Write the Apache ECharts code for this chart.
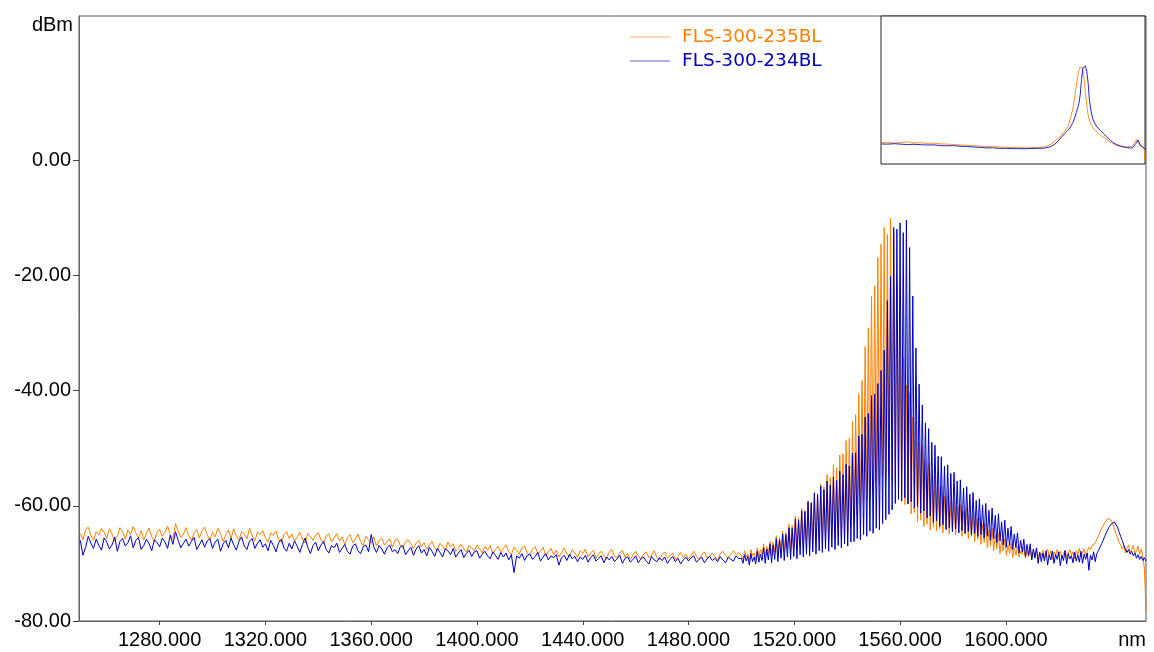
<!DOCTYPE html>
<html>
<head>
<meta charset="utf-8">
<script src="https://cdn.jsdelivr.net/npm/echarts@6/dist/echarts.min.js"></script>
<style>
  html, body { margin: 0; padding: 0; background: #fff; }
  #chart { width: 1154px; height: 652px; }
</style>
</head>
<body>
<div id="chart"></div>
<script>
// Optical spectrum of two FLS-300 sources (wavelength in nm, power in dBm).
const seriesNames = ['FLS-300-235BL', 'FLS-300-234BL'];
const seriesColors = ['#ff8000', '#0000c0'];
const xTickValues = [1280, 1320, 1360, 1400, 1440, 1480, 1520, 1560, 1600];
const yTickValues = [-80, -60, -40, -20, 0];

// Noise floor, 1 nm sampling from 1250 nm
const floorStart = 1250, floorStep = 1;
const floor235 = [
  -64.8,-65.9,-64.1,-63.7,-65.2,-66.0,-64.5,-65.1,-63.9,-64.6,
  -65.7,-64.0,-64.9,-66.1,-65.3,-63.8,-64.4,-65.8,-64.2,-65.0,
  -63.6,-64.7,-65.6,-64.3,-65.9,-64.8,-63.9,-65.4,-66.2,-64.5,
  -64.1,-65.3,-64.6,-63.5,-65.0,-65.8,-63.1,-64.4,-65.5,-64.9,
  -63.8,-65.2,-66.0,-64.7,-64.1,-65.6,-64.3,-63.7,-65.1,-65.9,
  -64.6,-65.4,-63.9,-64.8,-66.2,-65.0,-64.2,-65.7,-64.0,-65.3,
  -66.0,-64.5,-64.9,-65.8,-63.9,-65.2,-66.1,-64.6,-65.0,-64.3,
  -65.6,-66.3,-64.7,-65.1,-64.4,-65.9,-66.4,-65.0,-64.5,-65.7,
  -64.9,-66.2,-65.4,-64.6,-65.8,-66.5,-64.8,-65.3,-66.0,-65.1,
  -64.7,-65.9,-66.6,-65.2,-64.9,-66.3,-65.6,-64.8,-66.1,-65.4,
  -66.7,-65.5,-65.0,-66.4,-65.8,-64.9,-66.2,-66.9,-65.3,-65.9,
  -66.5,-65.4,-67.0,-66.1,-65.6,-66.8,-66.3,-65.7,-67.2,-66.0,
  -65.8,-66.9,-67.3,-66.2,-65.9,-66.6,-67.4,-66.5,-66.0,-67.1,
  -66.4,-67.6,-66.8,-66.2,-67.3,-67.8,-66.5,-67.0,-67.7,-66.3,
  -67.2,-66.6,-67.9,-67.4,-66.7,-67.5,-68.0,-66.9,-67.3,-67.8,
  -66.8,-67.5,-68.2,-67.1,-67.7,-66.9,-68.3,-67.6,-67.0,-68.1,
  -67.4,-66.8,-68.0,-68.5,-67.2,-67.8,-68.4,-67.3,-67.0,-68.2,
  -68.6,-67.5,-67.1,-68.3,-67.9,-67.2,-68.7,-68.0,-67.4,-68.5,
  -67.7,-68.9,-68.1,-67.3,-68.4,-68.8,-67.6,-68.2,-69.0,-67.8,
  -68.3,-67.5,-68.9,-68.2,-67.7,-69.1,-68.4,-67.9,-68.6,-69.2,
  -68.0,-67.6,-68.8,-69.0,-68.1,-67.8,-68.9,-68.3,-69.3,-68.5,
  -67.9,-68.7,-69.2,-68.4,-68.0,-69.0,-68.6,-67.8,-68.9,-69.4,
  -68.5,-68.0,-69.1,-68.7,-68.2,-69.3,-68.8,-68.1,-69.0,-68.4,
  -69.2,-68.6,-67.9,-68.8,-69.3,-68.5,-68.0,-69.1,-68.7,-68.2,
  -68.9,-69.4,-68.3,-67.9,-68.6,-69.0,-68.4,-67.8,-68.5,-68.1
];
const floor234 = [
  -66.0,-68.6,-67.2,-65.3,-66.5,-67.4,-65.8,-66.9,-67.7,-65.6,
  -66.3,-67.5,-66.8,-65.4,-67.9,-66.2,-65.7,-67.0,-66.4,-65.2,
  -67.3,-66.0,-65.5,-67.6,-66.9,-65.8,-66.6,-67.8,-65.9,-66.4,
  -67.1,-65.6,-66.3,-67.4,-65.1,-66.7,-64.5,-66.0,-67.3,-66.5,
  -65.8,-67.0,-66.2,-65.5,-67.6,-66.8,-65.9,-67.2,-66.1,-65.7,
  -67.4,-66.3,-65.8,-67.9,-66.6,-66.0,-67.3,-65.6,-66.8,-67.7,
  -66.2,-65.4,-67.0,-67.6,-66.1,-65.7,-67.4,-66.5,-65.9,-67.2,
  -66.6,-67.8,-66.0,-66.9,-68.0,-66.4,-65.8,-67.3,-67.9,-66.5,
  -67.5,-66.1,-67.0,-68.1,-66.7,-65.6,-67.2,-68.3,-66.9,-66.3,
  -67.8,-66.8,-66.2,-67.6,-68.2,-66.9,-67.3,-66.5,-68.1,-67.4,
  -66.7,-67.9,-68.4,-67.0,-66.6,-67.8,-68.3,-67.1,-66.8,-68.0,
  -65.0,-67.2,-68.1,-66.9,-67.5,-68.4,-67.3,-66.8,-68.0,-67.6,
  -68.3,-67.1,-66.9,-68.5,-67.8,-67.2,-68.6,-67.5,-66.9,-68.2,
  -67.6,-68.7,-67.2,-67.9,-68.8,-67.4,-68.1,-68.9,-67.5,-67.8,
  -68.5,-67.4,-68.9,-68.2,-67.6,-69.0,-68.3,-67.7,-68.8,-68.0,
  -67.8,-69.1,-68.4,-67.9,-68.7,-69.2,-68.0,-68.6,-69.3,-68.1,
  -68.9,-68.2,-69.4,-68.5,-71.6,-68.7,-69.1,-68.3,-69.5,-68.6,
  -68.4,-69.3,-68.8,-68.1,-69.6,-68.9,-68.3,-69.4,-68.7,-69.0,
  -68.5,-70.3,-69.0,-68.6,-69.5,-68.4,-69.2,-68.8,-69.7,-68.9,
  -69.3,-68.6,-69.8,-69.0,-68.5,-69.6,-69.1,-68.7,-69.9,-68.9,
  -69.4,-68.8,-69.7,-69.2,-68.6,-70.0,-69.1,-68.9,-69.8,-69.3,
  -68.7,-69.9,-69.2,-68.9,-69.6,-70.1,-68.8,-69.4,-69.7,-69.0,
  -69.5,-68.9,-70.0,-69.3,-68.8,-69.7,-69.1,-70.1,-69.4,-68.9,
  -69.6,-69.0,-68.7,-69.8,-69.3,-68.9,-69.9,-69.2,-68.8,-69.5,
  -69.1,-69.7,-68.8,-69.4,-69.9,-68.9,-69.3,-69.6,-68.7,-69.2
];

// Emission band, 0.6 nm sampling from 1500 nm (mode crests and troughs alternate)
const bandStart = 1500, bandStep = 0.6;
const band235 = [
  -68.6,-69.3,-67.8,-68.9,-68.4,-69.5,-67.6,-68.7,-68.2,-69.4,
  -67.3,-68.9,-67.6,-68.5,-66.6,-68.8,-67.1,-68.3,-66.2,-68.6,
  -66.3,-68.1,-65.2,-68.4,-65.5,-67.7,-64.4,-68.0,-64.6,-67.5,
  -63.2,-67.9,-63.4,-67.3,-61.8,-67.6,-62.1,-66.9,-60.5,-67.4,
  -60.8,-66.8,-59.1,-67.2,-59.4,-66.5,-57.6,-66.9,-58.0,-66.2,
  -56.2,-66.6,-56.7,-65.9,-54.6,-66.3,-55.1,-65.5,-52.9,-65.8,
  -53.4,-65.1,-51.2,-65.5,-51.0,-64.4,-48.7,-64.8,-48.3,-63.6,
  -45.4,-63.0,-44.2,-61.5,-40.6,-61.0,-38.3,-59.2,-32.4,-59.0,
  -29.2,-57.4,-23.6,-57.6,-21.8,-55.9,-16.9,-56.4,-14.6,-54.9,
  -11.7,-55.4,-12.9,-54.6,-10.1,-55.9,-13.6,-56.2,-21.5,-57.9,
  -30.6,-57.8,-34.2,-59.8,-39.1,-59.6,-40.4,-61.4,-44.6,-61.2,
  -45.5,-62.8,-49.1,-62.5,-49.6,-63.6,-52.0,-63.2,-52.6,-64.2,
  -54.5,-63.7,-54.8,-64.4,-56.8,-64.0,-56.6,-64.7,-58.3,-64.2,
  -58.2,-64.9,-59.4,-64.4,-59.0,-65.1,-60.2,-64.7,-59.8,-65.3,
  -60.9,-64.9,-60.5,-65.7,-61.6,-65.3,-61.2,-66.2,-62.3,-65.8,
  -62.0,-66.7,-63.2,-66.4,-63.0,-67.3,-64.2,-67.0,-63.9,-67.8,
  -65.0,-67.5,-64.8,-68.3,-65.9,-67.9,-65.7,-68.7,-66.8,-68.3,
  -66.5,-69.0,-67.3,-68.6,-67.0,-68.9,-67.9,-68.4,-67.2,-69.1,
  -67.8,-68.9,-67.5,-69.1,-68.0,-68.6,-67.6,-69.2,-68.1,-68.7,
  -67.7,-69.0,-68.2,-67.5,-68.9,-67.8,-69.3,-68.0,-68.6,-67.6,
  -68.8,-67.9,-69.1,-68.3,-67.7,-69.0,-68.2,-67.6,-68.7,-68.0,
  -69.2,-67.8,-68.5,-67.4,-68.9,-68.1,-67.5,-68.6,-67.9,-67.2,
  -67.6,-66.9,-67.2,-66.5,-65.8,-65.3,-64.6,-64.0,-63.5,-62.9,
  -62.6,-62.2,-62.1,-62.5,-63.2,-63.9,-64.8,-65.5,-66.3,-66.8,
  -67.5,-66.9,-68.2,-67.4,-66.8,-68.0,-67.6,-66.9,-68.3,-67.8,
  -67.0,-68.4,-67.5,-68.6,-71.0,-78.2
];
const band234 = [
  -69.1,-70.0,-68.5,-69.6,-68.8,-70.3,-68.3,-69.7,-68.9,-70.1,
  -67.9,-69.8,-68.4,-69.5,-67.3,-70.0,-67.5,-69.4,-66.6,-69.9,
  -66.8,-69.3,-65.7,-69.7,-65.9,-69.1,-64.9,-69.5,-65.0,-68.9,
  -63.8,-69.3,-63.9,-68.8,-62.3,-69.2,-62.5,-68.5,-60.9,-68.9,
  -61.0,-68.4,-59.3,-68.7,-59.5,-68.0,-57.8,-68.4,-58.0,-67.8,
  -56.6,-68.1,-57.2,-67.5,-55.7,-67.9,-56.4,-67.2,-55.0,-67.6,
  -55.6,-66.9,-54.0,-67.3,-54.6,-66.6,-52.8,-67.0,-53.1,-66.3,
  -50.9,-66.2,-50.8,-65.7,-47.9,-65.9,-47.6,-65.0,-44.6,-65.3,
  -44.0,-64.4,-40.9,-64.8,-40.6,-63.9,-38.8,-64.2,-36.5,-63.1,
  -33.0,-62.4,-24.4,-61.5,-20.2,-60.7,-11.7,-59.6,-12.0,-58.9,
  -10.9,-59.2,-12.6,-58.6,-10.4,-59.7,-15.2,-59.3,-23.6,-60.4,
  -32.6,-60.1,-38.9,-61.3,-42.5,-60.9,-45.6,-62.1,-46.6,-61.8,
  -49.0,-62.9,-49.5,-62.6,-51.4,-63.5,-51.5,-63.3,-53.1,-64.1,
  -52.9,-63.8,-54.4,-64.5,-54.2,-64.0,-55.7,-64.7,-55.5,-64.3,
  -56.9,-64.8,-56.7,-64.5,-58.0,-65.1,-57.7,-64.8,-59.1,-65.3,
  -58.8,-65.0,-59.9,-65.6,-59.6,-65.3,-60.8,-66.0,-60.4,-65.7,
  -61.7,-66.4,-61.4,-66.1,-62.8,-66.8,-62.5,-67.2,-63.9,-66.9,
  -63.6,-67.6,-64.9,-67.3,-64.7,-68.2,-66.0,-68.0,-65.8,-68.8,
  -66.7,-68.6,-66.6,-69.4,-67.5,-69.1,-67.3,-70.0,-68.1,-69.7,
  -68.2,-69.6,-67.8,-70.3,-68.5,-69.4,-67.9,-70.0,-68.4,-69.3,
  -68.0,-70.4,-68.6,-69.5,-67.8,-70.1,-68.3,-69.2,-68.7,-69.9,
  -68.1,-69.6,-68.5,-69.8,-67.9,-70.0,-68.4,-69.3,-68.2,-71.2,
  -68.6,-69.4,-68.0,-69.7,-68.3,-67.8,-67.2,-66.6,-66.0,-65.3,
  -64.7,-64.1,-63.6,-63.2,-62.9,-62.8,-63.1,-63.7,-64.5,-65.3,
  -66.0,-66.8,-67.5,-68.1,-67.6,-68.4,-67.9,-68.7,-68.2,-69.1,
  -68.5,-69.3,-68.8,-69.5,-69.0,-69.6
];

// Overview trace for the corner panel
const overviewNm = [
  1250,1260,1270,1280,1290,1300,1310,1320,1330,1340,1350,1360,1370,1380,1390,1400,
  1410,1420,1430,1440,1450,1460,1470,1480,1490,1500,1505,1510,1515,1520,1525,1530,
  1535,1538,1543,1546,1548,1550,1552,1554,1556,1558,1560,1562,1564,1566,1568,1570,
  1573,1576,1580,1585,1590,1595,1600,1605,1610,1615,1620,1625,1630,1634,1637,1640,
  1642,1644,1646,1650,1652,1653
];
const overview235 = [
  -65.0,-64.6,-65.2,-64.7,-64.3,-65.1,-64.9,-65.4,-65.2,-65.7,-65.9,-66.1,-66.5,-66.7,-67.0,-67.3,
  -67.5,-67.7,-67.9,-68.1,-68.3,-68.4,-68.6,-68.4,-68.3,-67.9,-67.0,-65.8,-64.0,-62.0,-59.6,-57.0,
  -53.6,-49.5,-40.5,-31.0,-24.5,-18.0,-13.5,-11.0,-10.2,-13.0,-20.0,-30.0,-38.0,-45.0,-49.0,-51.5,
  -53.8,-55.8,-57.5,-59.5,-61.2,-62.8,-64.3,-65.8,-66.8,-67.4,-67.8,-68.0,-67.8,-67.0,-65.2,-62.6,
  -63.6,-65.8,-67.2,-67.8,-69.5,-78.0
];
const overview234 = [
  -65.8,-65.9,-65.6,-65.9,-66.2,-66.0,-66.3,-66.5,-66.4,-66.9,-67.1,-67.0,-67.4,-67.6,-67.9,-68.2,
  -68.6,-68.5,-68.9,-68.9,-69.1,-69.1,-69.2,-69.0,-68.9,-68.7,-68.3,-67.4,-66.0,-63.8,-61.0,-58.5,
  -56.2,-54.5,-50.5,-46.5,-43.5,-40.5,-37.0,-31.0,-20.0,-11.8,-10.7,-10.5,-14.5,-22.0,-34.0,-41.5,
  -47.5,-51.0,-53.8,-56.3,-58.7,-61.0,-63.2,-65.0,-66.3,-67.2,-67.9,-68.3,-68.6,-68.5,-67.6,-65.0,
  -63.0,-64.8,-67.0,-68.2,-68.8,-69.5
];

// Pair sampled values with their wavelengths
function sampled(start, step, values) {
  return values.map((v, i) => [Math.round((start + i * step) * 100) / 100, v]);
}
function trace(floorVals, bandVals) {
  return sampled(floorStart, floorStep, floorVals).concat(sampled(bandStart, bandStep, bandVals));
}
function paired(xs, ys) {
  return xs.map((x, i) => [x, ys[i]]);
}

const mainTraces = [trace(floor235, band235), trace(floor234, band234)];
const overviewTraces = [paired(overviewNm, overview235), paired(overviewNm, overview234)];

const labelFont = { fontFamily: '"Liberation Sans", Arial, sans-serif', fontSize: 20, color: '#000' };
const xMin = 1249.5, xMax = 1653, yMin = -80, yMax = 25;

const chart = echarts.init(document.getElementById('chart'), null, { renderer: 'canvas' });

const series = [];
seriesNames.forEach((name, i) => {
  series.push({
    name: name,
    type: 'line',
    xAxisIndex: 0,
    yAxisIndex: 0,
    data: mainTraces[i],
    showSymbol: false,
    symbol: 'none',
    sampling: 'none',
    clip: true,
    lineStyle: { color: seriesColors[i], width: 1 },
    itemStyle: { color: seriesColors[i] },
    z: 2 + i
  });
});
seriesNames.forEach((name, i) => {
  series.push({
    name: name,
    type: 'line',
    xAxisIndex: 1,
    yAxisIndex: 1,
    data: overviewTraces[i],
    showSymbol: false,
    symbol: 'none',
    clip: true,
    lineStyle: { color: seriesColors[i], width: 1, opacity: 0.85 },
    itemStyle: { color: seriesColors[i] },
    z: 6 + i
  });
});

chart.setOption({
  animation: false,
  backgroundColor: '#fff',
  grid: [
    { left: 79, right: 8, top: 16, bottom: 31, show: true, borderColor: '#555', borderWidth: 1, backgroundColor: '#fff' },
    { left: 881, top: 16, width: 264, height: 148, show: true, borderColor: '#222', borderWidth: 1, backgroundColor: '#fff', z: 5 }
  ],
  legend: {
    orient: 'vertical',
    left: 630,
    top: 27,
    padding: 0,
    itemGap: 4,
    itemWidth: 40,
    itemHeight: 1,
    icon: 'rect',
    selectedMode: false,
    textStyle: { fontFamily: '"DejaVu Sans", Verdana, sans-serif', fontSize: 18.5, lineHeight: 20, padding: [0, 0, 0, 7] },
    data: [
      { name: seriesNames[0], itemStyle: { opacity: 0.6 }, textStyle: { color: '#ff7f00' } },
      { name: seriesNames[1], itemStyle: { opacity: 0.6 }, textStyle: { color: '#0000b4' } }
    ]
  },
  xAxis: [
    {
      type: 'value', gridIndex: 0, min: xMin, max: xMax,
      name: 'nm', nameLocation: 'end', nameGap: 0,
      nameTextStyle: Object.assign({}, labelFont, { align: 'right', verticalAlign: 'top', padding: [9, 0, 0, 0] }),
      axisLine: { show: true, onZero: false, lineStyle: { color: '#666', width: 1 } },
      axisTick: { show: true, length: 4, customValues: xTickValues, lineStyle: { color: '#444' } },
      axisLabel: Object.assign({ customValues: xTickValues, margin: 9, formatter: v => v.toFixed(3) }, labelFont),
      splitLine: { show: false }
    },
    { type: 'value', gridIndex: 1, min: xMin, max: xMax, show: false }
  ],
  yAxis: [
    {
      type: 'value', gridIndex: 0, min: yMin, max: yMax,
      name: 'dBm', nameLocation: 'end', nameGap: -9,
      nameTextStyle: Object.assign({}, labelFont, { align: 'right', verticalAlign: 'middle', padding: [0, 6, 0, 0] }),
      axisLine: { show: true, onZero: false, lineStyle: { color: '#666', width: 1 } },
      axisTick: { show: true, length: 6, customValues: yTickValues, lineStyle: { color: '#444' } },
      axisLabel: Object.assign({ customValues: yTickValues, margin: 8, formatter: v => v.toFixed(2) }, labelFont),
      splitLine: { show: false }
    },
    { type: 'value', gridIndex: 1, min: yMin, max: yMax, show: false }
  ],
  series: series
});
</script>
</body>
</html>
